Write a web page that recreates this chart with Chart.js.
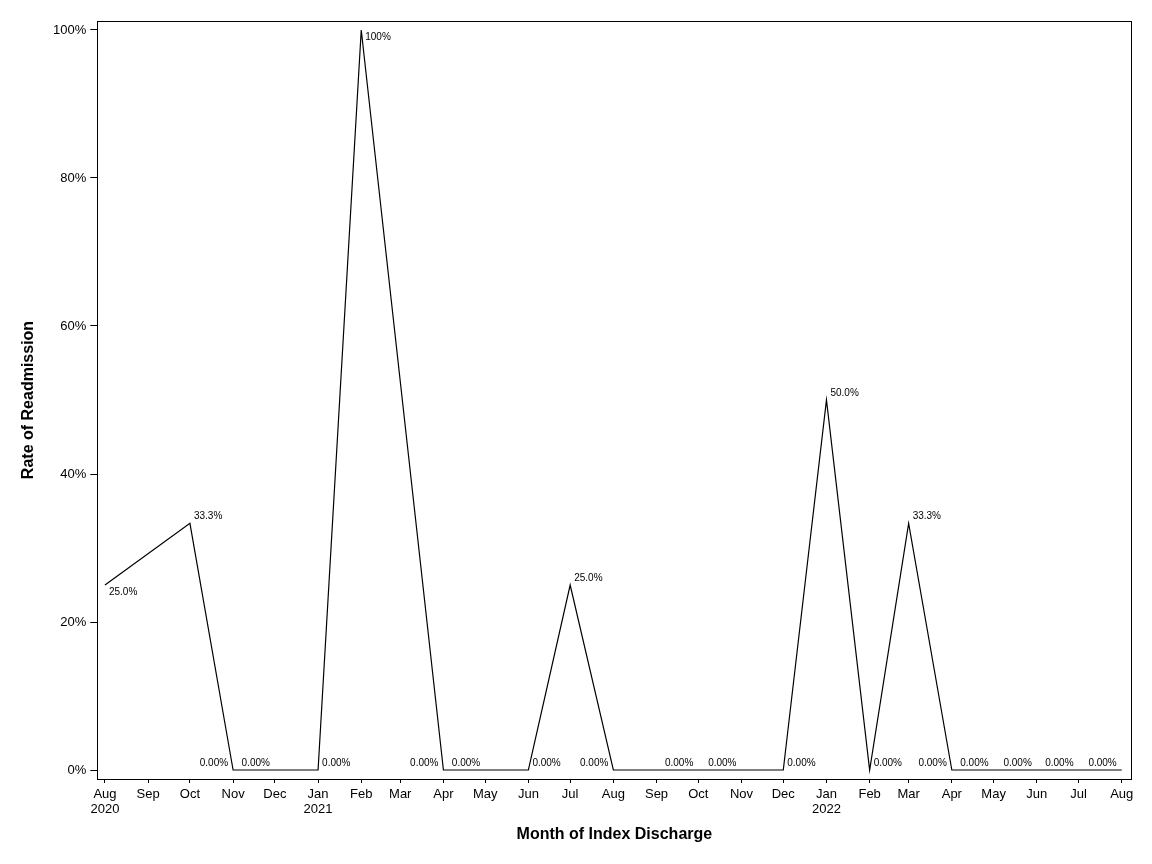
<!DOCTYPE html>
<html>
<head>
<meta charset="utf-8">
<style>
  html, body { margin: 0; padding: 0; background: #fff; }
  #wrap { width: 1152px; height: 864px; }
</style>
<script src="https://cdn.jsdelivr.net/npm/chart.js@4.4.0/dist/chart.umd.min.js"></script>
</head>
<body>
<div id="wrap"><canvas id="c" width="1152" height="864"></canvas></div>
<script>
// ---- data ----
const months = ["2020-08","2020-10","2020-11","2020-12","2021-01","2021-02","2021-04","2021-05","2021-06","2021-07","2021-08","2021-10","2021-11","2021-12","2022-01","2022-02","2022-03","2022-04","2022-05","2022-06","2022-07","2022-08"];
const rates  = [25.0, 33.33, 0, 0, 0, 100, 0, 0, 0, 25.0, 0, 0, 0, 0, 50.0, 0, 33.33, 0, 0, 0, 0, 0];
const labelPlacement = ["SE","NE","NW","NW","NE","SE","NW","NW","NE","NE","NW","NW","NW","NE","NE","NE","NE","NW","NW","NW","NW","NW"];
const tickMonthNames = ["Jan","Feb","Mar","Apr","May","Jun","Jul","Aug","Sep","Oct","Nov","Dec"];
const axisStart = "2020-08";
const axisEnd = "2022-08";
const yTicks = [0, 20, 40, 60, 80, 100];

// ---- helpers ----
const DAY = 86400000;
function dayOf(ym) { const [y, m] = ym.split("-").map(Number); return Date.UTC(y, m - 1, 1) / DAY; }
function fmtPct(v) {
  if (v === 0) return "0.00%";
  if (v >= 100) return "100%";
  return v.toFixed(1) + "%";
}
const points = months.map((m, i) => ({ x: dayOf(m), y: rates[i] }));
const monthTicks = [];
{
  let [y, m] = axisStart.split("-").map(Number);
  const [ey, em] = axisEnd.split("-").map(Number);
  while (y < ey || (y === ey && m <= em)) {
    monthTicks.push({ day: Date.UTC(y, m - 1, 1) / DAY, y, m });
    m++; if (m > 12) { m = 1; y++; }
  }
}
const tickInfo = {};
monthTicks.forEach((t, i) => {
  const name = tickMonthNames[t.m - 1];
  tickInfo[t.day] = (i === 0 || t.m === 1) ? [name, String(t.y)] : name;
});

const FONT = "'Liberation Sans', Arial, sans-serif";

const framePlugin = {
  id: "frame",
  afterDatasetsDraw(chart) {
    const { ctx, chartArea: a } = chart;
    ctx.save();
    ctx.strokeStyle = "#000";
    ctx.lineWidth = 1;
    ctx.strokeRect(Math.round(a.left) + 0.5, Math.round(a.top) + 0.5, Math.round(a.right - a.left), Math.round(a.bottom - a.top));
    ctx.restore();
  }
};

const labelPlugin = {
  id: "pointLabels",
  afterDatasetsDraw(chart) {
    const { ctx } = chart;
    const meta = chart.getDatasetMeta(0);
    ctx.save();
    ctx.fillStyle = "#000";
    ctx.font = "10px " + FONT;
    ctx.textBaseline = "middle";
    meta.data.forEach((el, i) => {
      const pos = labelPlacement[i];
      const txt = fmtPct(rates[i]);
      let x = el.x, y = el.y;
      if (pos === "NE") { ctx.textAlign = "left"; x += 4; y -= 7; }
      else if (pos === "NW") { ctx.textAlign = "right"; x -= 5; y -= 7; }
      else if (pos === "SE") { ctx.textAlign = "left"; x += 4; y += 7.5; }
      ctx.fillText(txt, x, y);
    });
    ctx.restore();
  }
};

new Chart(document.getElementById("c"), {
  type: "line",
  data: {
    datasets: [{
      data: points,
      borderColor: "#000",
      borderWidth: 1.2,
      pointRadius: 0,
      fill: false,
      tension: 0
    }]
  },
  options: {
    responsive: false,
    animation: false,
    devicePixelRatio: 1,
    layout: { padding: { top: 21, right: 20.5, left: 0, bottom: 0 } },
    plugins: { legend: { display: false }, tooltip: { enabled: false } },
    scales: {
      x: {
        type: "linear",
        min: dayOf(axisStart) - 5.5,
        max: dayOf(axisEnd) + 7,
        afterBuildTicks(scale) { scale.ticks = monthTicks.map(t => ({ value: t.day })); },
        afterFit(scale) { scale.height = 85; },
        border: { display: false },
        grid: { drawOnChartArea: false, drawTicks: true, tickLength: 4, color: "#000", lineWidth: 1 },
        ticks: {
          autoSkip: false,
          maxRotation: 0,
          padding: 4,
          color: "#000",
          font: { family: FONT, size: 13, lineHeight: 1.15 },
          callback(v) { return tickInfo[v] !== undefined ? tickInfo[v] : ""; }
        },
        title: {
          display: true,
          text: "Month of Index Discharge",
          color: "#000",
          font: { family: FONT, size: 16, weight: "bold" },
          padding: { top: 0, bottom: 20 }
        }
      },
      y: {
        min: -1.216,
        max: 101.216,
        afterBuildTicks(scale) { scale.ticks = yTicks.map(v => ({ value: v })); },
        afterFit(scale) { scale.width = 97.3; },
        border: { display: false },
        grid: { drawOnChartArea: false, drawTicks: true, tickLength: 7, color: "#000", lineWidth: 1 },
        ticks: {
          padding: 4,
          color: "#000",
          font: { family: FONT, size: 13 },
          callback(v) { return v + "%"; }
        },
        title: {
          display: true,
          text: "Rate of Readmission",
          color: "#000",
          font: { family: FONT, size: 16, weight: "bold" },
          padding: { top: 19, bottom: 0 }
        }
      }
    }
  },
  plugins: [framePlugin, labelPlugin]
});
</script>
</body>
</html>
